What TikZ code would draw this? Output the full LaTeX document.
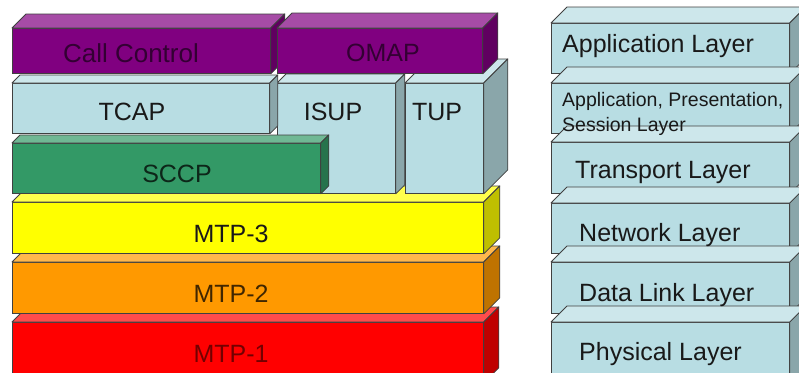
\documentclass[tikz,border=0pt]{standalone}
\usepackage{fontspec}
\setmainfont{Liberation Sans}

\definecolor{edge}{HTML}{404040}
\definecolor{osiblue}{HTML}{B8DDE3}
\definecolor{ccpurple}{HTML}{800080}
\definecolor{sccpgreen}{HTML}{339966}
\definecolor{mtpyellow}{HTML}{FFFF00}
\definecolor{mtporange}{HTML}{FF9900}
\definecolor{mtpred}{HTML}{FF0000}

% top and right side of a box whose front face is node #1
\newcommand{\boxfaces}[3]{%
  \filldraw[fill=#3!70!white, draw=edge, line width=0.8pt, line join=round]
    (#1.north west) -- ++(#2,-#2) -- ([shift={(#2,-#2)}]#1.north east) -- (#1.north east) -- cycle;
  \filldraw[fill=#3!75!black, draw=edge, line width=0.8pt, line join=round]
    (#1.north east) -- ++(#2,-#2) -- ([shift={(#2,-#2)}]#1.south east) -- (#1.south east) -- cycle;
}

\begin{document}
\begin{tikzpicture}[x=1pt, y=-1pt,
    front/.style = {draw=edge, line width=0.8pt, inner sep=0pt, anchor=north west},
    lbl/.style = {anchor=base, inner sep=0pt, font=\fontsize{25}{30}\selectfont},
    osi/.style = {anchor=base west, inner sep=0pt, text=black!90,
        font=\fontsize{25}{30}\selectfont}]
    \useasboundingbox (0,0) rectangle (799,372);
    \fill[white] (0,0) rectangle (799,372);
    \clip (0,0) rectangle (799,372);

    % SS7 stack, bottom up
    \node[front, fill=mtpred, minimum width=471pt, minimum height=60pt] (mtp1) at (12,322) {};
    \boxfaces{mtp1}{15}{mtpred}
    \node[front, fill=mtporange, minimum width=471pt, minimum height=51pt] (mtp2) at (12,262) {};
    \boxfaces{mtp2}{16}{mtporange}
    \node[front, fill=mtpyellow, minimum width=471pt, minimum height=51pt] (mtp3) at (12,202) {};
    \boxfaces{mtp3}{16}{mtpyellow}
    \node[front, fill=osiblue, minimum width=78pt, minimum height=110pt] (tup) at (405,83) {};
    \boxfaces{tup}{24}{osiblue}
    \node[front, fill=osiblue, minimum width=118pt, minimum height=110pt] (isup) at (277,83) {};
    \boxfaces{isup}{9}{osiblue}
    \node[front, fill=osiblue, minimum width=257pt, minimum height=50pt] (tcap) at (12,83) {};
    \boxfaces{tcap}{8}{osiblue}
    \node[front, fill=sccpgreen, minimum width=308pt, minimum height=50pt] (sccp) at (12,143) {};
    \boxfaces{sccp}{8}{sccpgreen}
    \node[front, fill=ccpurple, minimum width=258pt, minimum height=45pt] (callctl) at (12,28) {};
    \boxfaces{callctl}{14}{ccpurple}
    \node[front, fill=ccpurple, minimum width=205pt, minimum height=45pt] (omap) at (277,28) {};
    \boxfaces{omap}{15}{ccpurple}

    % OSI stack
    \foreach \name/\y/\h in {app/23/50, aps/83/50, tra/142/51, net/203/50, dll/262/51, phy/322/60} {
        \node[front, fill=osiblue, minimum width=238pt, minimum height=\h pt] (\name) at (551,\y) {};
        \boxfaces{\name}{16}{osiblue}
    }

    % labels
    \node[lbl, text=ccpurple!40!black, font=\fontsize{26}{30}\selectfont] (callctl-t) at (131,62) {Call Control};
    \node[lbl, text=ccpurple!40!black] (omap-t) at (383,61) {OMAP};
    \node[lbl, text=black!90] (tcap-t) at (132,120) {TCAP};
    \node[lbl, text=black!90] (isup-t) at (333,120) {ISUP};
    \node[lbl, text=black!90] (tup-t) at (437,120) {TUP};
    \node[lbl, text=sccpgreen!25!black] (sccp-t) at (177,182) {SCCP};
    \node[lbl, text=black!90] (mtp3-t) at (231,242) {MTP-3};
    \node[lbl, text=mtporange!25!black] (mtp2-t) at (231,302) {MTP-2};
    \node[lbl, text=mtpred!45!black] (mtp1-t) at (231,362) {MTP-1};

    \node[osi] (app-t) at (562,52) {Application Layer};
    \node[anchor=north west, inner sep=0pt, align=left, text=black!90,
        font=\fontsize{19.5}{25}\selectfont] (aps-t) at (562,92) {Application, Presentation,\\Session Layer};
    \node[osi] (tra-t) at (575,178) {Transport Layer};
    \node[osi] (net-t) at (579,241) {Network Layer};
    \node[osi] (dll-t) at (579,301) {Data Link Layer};
    \node[osi] (phy-t) at (579,360) {Physical Layer};
\end{tikzpicture}
\end{document}
